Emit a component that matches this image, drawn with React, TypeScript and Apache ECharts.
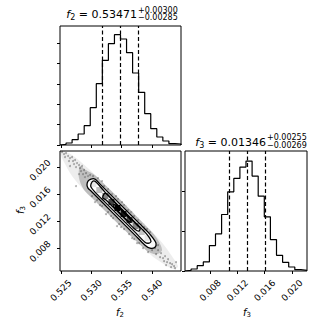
import React, { useEffect, useRef } from "react";
import * as echarts from "echarts";

const FONT = "DejaVu Sans";

// Parameter ranges (histogram/axis extents)
const F2_RANGE = [0.52484, 0.5448];
const F3_RANGE_2D = [0.00464, 0.02237];
const F3_RANGE_HIST = [0.00428, 0.02221];

// Tick values
const F2_TICKS = [0.525, 0.53, 0.535, 0.54];
const F3_TICKS = [0.008, 0.012, 0.016, 0.02];
const F2_COUNT_TICKS = [0, 61, 122, 183, 244, 305];
const F3_COUNT_TICKS = [0, 120, 240];
const F2_COUNT_MAX = 357;
const F3_COUNT_MAX = 359;

// 1D histogram counts (20 bins each)
const F2_COUNTS = [2, 6, 16, 33, 58, 112, 184, 254, 304, 331, 318, 277, 216, 158, 94, 49, 24, 12, 4, 3];
const F3_COUNTS = [2, 6, 16, 27, 76, 111, 169, 237, 277, 311, 329, 284, 224, 162, 94, 47, 26, 12, 4, 2];

// Quantile summaries
const F2_STATS = { median: 0.53471, plus: 0.003, minus: 0.00285 };
const F3_STATS = { median: 0.01346, plus: 0.00255, minus: 0.00269 };

// 2D density cells: [binIndexF2, binIndexF3, relative density]
const DENSITY = [
  [2, 17, 0.04], [3, 16, 0.09], [4, 15, 0.18], [5, 14, 0.32], [6, 13, 0.5], [7, 12, 0.7], [8, 11, 0.86], [9, 10, 1],
  [10, 9, 0.95], [11, 8, 0.84], [12, 7, 0.69], [13, 6, 0.48], [14, 5, 0.3], [15, 4, 0.16], [16, 3, 0.08], [17, 2, 0.03],
  [3, 15, 0.02], [4, 14, 0.04], [5, 13, 0.08], [6, 12, 0.13], [7, 11, 0.2], [8, 10, 0.27], [9, 9, 0.32],
  [10, 8, 0.3], [11, 7, 0.25], [12, 6, 0.19], [13, 5, 0.12], [14, 4, 0.07], [15, 3, 0.04],
  [4, 16, 0.02], [5, 15, 0.04], [6, 14, 0.07], [7, 13, 0.13], [8, 12, 0.2], [9, 11, 0.28], [10, 10, 0.33],
  [11, 9, 0.29], [12, 8, 0.25], [13, 7, 0.19], [14, 6, 0.13], [15, 5, 0.07], [16, 4, 0.04],
];

// Contour levels (2.0, 1.5, 1.0, 0.5 sigma), vertices [f2, f3]
const CONTOUR_20 = [
  [0.52929, 0.01734], [0.52946, 0.01793], [0.52995, 0.01822], [0.53061, 0.01822], [0.53144, 0.01748],
  [0.53309, 0.016], [0.53474, 0.01452], [0.53639, 0.01304], [0.53804, 0.01156], [0.53936, 0.01038],
  [0.54018, 0.00949], [0.54068, 0.00875], [0.54051, 0.00816], [0.53969, 0.00801], [0.53886, 0.00846],
  [0.53721, 0.00994], [0.53556, 0.01142], [0.53391, 0.0129], [0.53226, 0.01438], [0.53078, 0.01571],
  [0.52979, 0.0166], [0.52946, 0.01689],
];
const CONTOUR_15 = [
  [0.52995, 0.01748], [0.53028, 0.01793], [0.53078, 0.01778], [0.53226, 0.0163], [0.53391, 0.01482],
  [0.53556, 0.01334], [0.53721, 0.01186], [0.53886, 0.01038], [0.53952, 0.00964], [0.53985, 0.00905],
  [0.53952, 0.00875], [0.53886, 0.0089], [0.53721, 0.01038], [0.53556, 0.01186], [0.53391, 0.01334],
  [0.53226, 0.01482], [0.53061, 0.0163], [0.52995, 0.01704],
];
const CONTOUR_10 = [
  [0.53193, 0.01571], [0.53226, 0.01615], [0.53276, 0.01586], [0.53441, 0.01423], [0.53606, 0.01275],
  [0.53738, 0.01156], [0.53804, 0.01097], [0.53787, 0.01053], [0.53721, 0.01082], [0.53556, 0.0123],
  [0.53391, 0.01378], [0.53243, 0.01512], [0.53193, 0.01541],
];
const CONTOUR_05 = [
  [0.53358, 0.01438], [0.53408, 0.01438], [0.5354, 0.01319], [0.53639, 0.0123], [0.53655, 0.01186],
  [0.53606, 0.01201], [0.53474, 0.01319], [0.53375, 0.01408],
];

// Dense point cloud regions (outer faint, inner darker)
const CLOUD_OUTER = [
  [0.52517, 0.02237], [0.52682, 0.02178], [0.52979, 0.01956], [0.54134, 0.0092], [0.54332, 0.00683],
  [0.54431, 0.00535], [0.54365, 0.0049], [0.542, 0.00564], [0.53969, 0.00712], [0.5288, 0.0166],
  [0.52682, 0.01867], [0.5255, 0.02074], [0.525, 0.02178],
];
const CLOUD_INNER = [
  [0.52814, 0.02015], [0.52913, 0.01956], [0.53078, 0.01867], [0.53969, 0.01068], [0.54101, 0.0092],
  [0.54167, 0.00772], [0.54068, 0.00712], [0.53903, 0.00772], [0.53012, 0.01541], [0.5288, 0.0166],
  [0.52797, 0.01837],
];

// Individual samples
const POINTS = [
  [0.52517, 0.02222], [0.5255, 0.02192], [0.52583, 0.02207], [0.52566, 0.02148], [0.52616, 0.02163],
  [0.52649, 0.02133], [0.52632, 0.02089], [0.52682, 0.02148], [0.52698, 0.02089], [0.52731, 0.02104],
  [0.52715, 0.02044], [0.52764, 0.02059], [0.52748, 0.02], [0.52797, 0.0203], [0.52814, 0.01985],
  [0.52847, 0.02015], [0.5283, 0.01941], [0.5288, 0.01956], [0.52863, 0.01896], [0.52913, 0.01911],
  [0.52896, 0.01852], [0.52946, 0.01867], [0.52797, 0.01896], [0.52748, 0.01719], [0.52649, 0.02015],
  [0.52979, 0.01882], [0.53028, 0.01867],
  [0.53111, 0.01837], [0.53177, 0.01793], [0.5321, 0.01719], [0.53276, 0.01674], [0.53342, 0.016],
  [0.53408, 0.01571], [0.53441, 0.01526], [0.53507, 0.01482], [0.5354, 0.01438], [0.53606, 0.01364],
  [0.53655, 0.01334], [0.53705, 0.01275], [0.53771, 0.01216], [0.5382, 0.01156], [0.5387, 0.01112],
  [0.53919, 0.01082], [0.53969, 0.01038],
  [0.53012, 0.01571], [0.53061, 0.01482], [0.53094, 0.01512], [0.53144, 0.01438], [0.53177, 0.01423],
  [0.53243, 0.01304], [0.53276, 0.01334], [0.53326, 0.01275], [0.53358, 0.01245], [0.53424, 0.01127],
  [0.53457, 0.01156], [0.5349, 0.01112], [0.5354, 0.01082], [0.53622, 0.01008], [0.53672, 0.00949],
  [0.53705, 0.00934], [0.53754, 0.00875], [0.53787, 0.00875], [0.53853, 0.00801],
  [0.54002, 0.00772], [0.54051, 0.00801], [0.54101, 0.00772], [0.54068, 0.00712], [0.5415, 0.00727],
  [0.54134, 0.00668], [0.54183, 0.00653], [0.54216, 0.00683], [0.542, 0.00609], [0.54249, 0.00594],
  [0.54266, 0.00638], [0.54299, 0.00579], [0.54332, 0.00564], [0.54365, 0.00535], [0.54315, 0.0052],
  [0.54398, 0.00594], [0.54381, 0.00505], [0.54101, 0.00846], [0.53936, 0.00742], [0.54233, 0.0055],
];

function stepData(counts: number[], range: number[]) {
  const w = (range[1] - range[0]) / counts.length;
  const pts: number[][] = [[range[0], 0]];
  counts.forEach((c, k) => {
    pts.push([range[0] + k * w, c]);
    pts.push([range[0] + (k + 1) * w, c]);
  });
  pts.push([range[1], 0]);
  return pts;
}

function quantileLines(stats: { median: number; plus: number; minus: number }) {
  return {
    symbol: ["none", "none"],
    silent: true,
    precision: 8,
    label: { show: false },
    lineStyle: { color: "#000", type: [4, 2.5], width: 1.2 },
    emphasis: { disabled: true },
    data: [
      { xAxis: stats.median - stats.minus },
      { xAxis: stats.median },
      { xAxis: stats.median + stats.plus },
    ],
  };
}

function polySeries(pts: number[][], style: any, z: number, smooth = 0) {
  return {
    type: "custom",
    xAxisIndex: 1,
    yAxisIndex: 1,
    z,
    silent: true,
    data: [[F2_RANGE[0], F3_RANGE_2D[0]]],
    renderItem: (_p: any, api: any) => ({
      type: "polygon",
      shape: { points: pts.map((p) => api.coord(p)), smooth },
      style,
    }),
  };
}

const tickStyle = { show: true, length: 3, lineStyle: { color: "#000", width: 1 } };
const labelStyle = { fontSize: 9, color: "#000", fontFamily: FONT };

function titleGraphic(sym: string, stats: any, xJoin: number, yMid: number) {
  const fmt = (v: number) => v.toFixed(5);
  return [
    {
      type: "text",
      x: xJoin,
      y: yMid,
      style: {
        text: `{i|f}{s|${sym}}{n| = ${fmt(stats.median)}}`,
        align: "right",
        verticalAlign: "middle",
        rich: {
          i: { fontStyle: "italic", fontSize: 11, fontFamily: FONT, fill: "#000", lineHeight: 14 },
          s: { fontSize: 8, fontFamily: FONT, fill: "#000", lineHeight: 8, verticalAlign: "bottom" },
          n: { fontSize: 11, fontFamily: FONT, fill: "#000", lineHeight: 14 },
        },
      },
    },
    {
      type: "text",
      x: xJoin + 1,
      y: yMid - 4.3,
      style: { text: `+${fmt(stats.plus)}`, align: "left", verticalAlign: "middle", fontSize: 8, fontFamily: FONT, fill: "#000" },
    },
    {
      type: "text",
      x: xJoin + 1,
      y: yMid + 3.2,
      style: { text: `\u2212${fmt(stats.minus)}`, align: "left", verticalAlign: "middle", fontSize: 8, fontFamily: FONT, fill: "#000" },
    },
  ];
}

function axisName(sym: string, x: number, y: number, rotation = 0) {
  return {
    type: "text",
    x,
    y,
    rotation,
    style: {
      text: `{i|f}{s|${sym}}`,
      align: "center",
      verticalAlign: "middle",
      rich: {
        i: { fontStyle: "italic", fontSize: 10, fontFamily: FONT, fill: "#000", lineHeight: 12 },
        s: { fontSize: 7, fontFamily: FONT, fill: "#000", lineHeight: 7, verticalAlign: "bottom" },
      },
    },
  };
}

function buildOption() {
  const dx = (F2_RANGE[1] - F2_RANGE[0]) / 20;
  const dy = (F3_RANGE_2D[1] - F3_RANGE_2D[0]) / 20;
  return {
    animation: false,
    textStyle: { fontFamily: FONT },
    grid: [
      { left: 60, top: 26, width: 121, height: 119, show: true, borderColor: "#000", borderWidth: 1, backgroundColor: "transparent" },
      { left: 60, top: 151, width: 121, height: 120, show: true, borderColor: "#000", borderWidth: 1, backgroundColor: "transparent" },
      { left: 185, top: 151, width: 122, height: 120, show: true, borderColor: "#000", borderWidth: 1, backgroundColor: "transparent" },
    ],
    xAxis: [
      {
        gridIndex: 0, type: "value", min: F2_RANGE[0], max: F2_RANGE[1],
        axisLine: { show: false }, splitLine: { show: false },
        axisTick: { ...tickStyle, customValues: F2_TICKS }, axisLabel: { show: false },
      },
      {
        gridIndex: 1, type: "value", min: F2_RANGE[0], max: F2_RANGE[1],
        axisLine: { show: false }, splitLine: { show: false },
        axisTick: { ...tickStyle, customValues: F2_TICKS },
        axisLabel: {
          ...labelStyle, show: true, customValues: F2_TICKS, rotate: 45, align: "center", verticalAlign: "middle", margin: 19.5,
          formatter: (v: number) => v.toFixed(3),
        },
      },
      {
        gridIndex: 2, type: "value", min: F3_RANGE_HIST[0], max: F3_RANGE_HIST[1],
        axisLine: { show: false }, splitLine: { show: false },
        axisTick: { ...tickStyle, customValues: F3_TICKS },
        axisLabel: {
          ...labelStyle, show: true, customValues: F3_TICKS, rotate: 45, align: "center", verticalAlign: "middle", margin: 19.5,
          formatter: (v: number) => v.toFixed(3),
        },
      },
    ],
    yAxis: [
      {
        gridIndex: 0, type: "value", min: 0, max: F2_COUNT_MAX,
        axisLine: { show: false }, splitLine: { show: false },
        axisTick: { ...tickStyle, customValues: F2_COUNT_TICKS }, axisLabel: { show: false },
      },
      {
        gridIndex: 1, type: "value", min: F3_RANGE_2D[0], max: F3_RANGE_2D[1],
        axisLine: { show: false }, splitLine: { show: false },
        axisTick: { ...tickStyle, customValues: F3_TICKS },
        axisLabel: {
          ...labelStyle, show: true, customValues: F3_TICKS, rotate: 45, align: "center", verticalAlign: "top", margin: 23,
          formatter: (v: number) => v.toFixed(3),
        },
      },
      {
        gridIndex: 2, type: "value", min: 0, max: F3_COUNT_MAX,
        axisLine: { show: false }, splitLine: { show: false },
        axisTick: { ...tickStyle, customValues: F3_COUNT_TICKS }, axisLabel: { show: false },
      },
    ],
    series: [
      {
        type: "line", xAxisIndex: 0, yAxisIndex: 0, data: stepData(F2_COUNTS, F2_RANGE),
        symbol: "none", showSymbol: false, silent: true,
        lineStyle: { color: "#000", width: 1.2 },
        markLine: quantileLines(F2_STATS),
      },
      {
        type: "line", xAxisIndex: 2, yAxisIndex: 2, data: stepData(F3_COUNTS, F3_RANGE_HIST),
        symbol: "none", showSymbol: false, silent: true,
        lineStyle: { color: "#000", width: 1.2 },
        markLine: quantileLines(F3_STATS),
      },
      polySeries(CLOUD_OUTER, { fill: "rgba(0,0,0,0.07)" }, 1, 0.3),
      polySeries(CLOUD_INNER, { fill: "rgba(0,0,0,0.2)" }, 1, 0.3),
      {
        type: "scatter", xAxisIndex: 1, yAxisIndex: 1, data: POINTS, symbolSize: 2, silent: true, z: 2,
        itemStyle: { color: "rgba(0,0,0,0.4)" },
      },
      polySeries(CONTOUR_20, { fill: "#fff" }, 3, 0.3),
      {
        type: "custom", xAxisIndex: 1, yAxisIndex: 1, z: 4, silent: true,
        data: [[F2_RANGE[0], F3_RANGE_2D[0]]],
        renderItem: (_p: any, api: any) => ({
          type: "group",
          children: DENSITY.map(([i, j, h]) => {
            const a = api.coord([F2_RANGE[0] + i * dx, F3_RANGE_2D[0] + (j + 1) * dy]);
            const b = api.coord([F2_RANGE[0] + (i + 1) * dx, F3_RANGE_2D[0] + j * dy]);
            const g = Math.round(255 * (1 - h));
            return {
              type: "rect",
              shape: { x: a[0], y: a[1], width: b[0] - a[0], height: b[1] - a[1] },
              style: { fill: `rgba(${g},${g},${g},${h})` },
            };
          }),
        }),
      },
      ...[CONTOUR_20, CONTOUR_15, CONTOUR_10, CONTOUR_05].map((c) =>
        polySeries(c, { fill: "none", stroke: "#000", lineWidth: 1.3 }, 5, 0.3)
      ),
    ],
    graphic: [
      ...titleGraphic("2", F2_STATS, 137, 14.4),
      ...titleGraphic("3", F3_STATS, 266, 142.2),
      axisName("2", 120, 312),
      axisName("3", 247, 312),
      axisName("3", 20, 210, Math.PI / 2),
    ],
  };
}

export default function App() {
  const ref = useRef<HTMLDivElement>(null);
  useEffect(() => {
    const chart = echarts.init(ref.current!, undefined, { renderer: "svg" });
    chart.setOption(buildOption() as any);
    return () => chart.dispose();
  }, []);
  return (
    <div
      ref={ref}
      style={{ position: "fixed", left: 0, top: 0, width: 332, height: 332, background: "#fff" }}
    />
  );
}
